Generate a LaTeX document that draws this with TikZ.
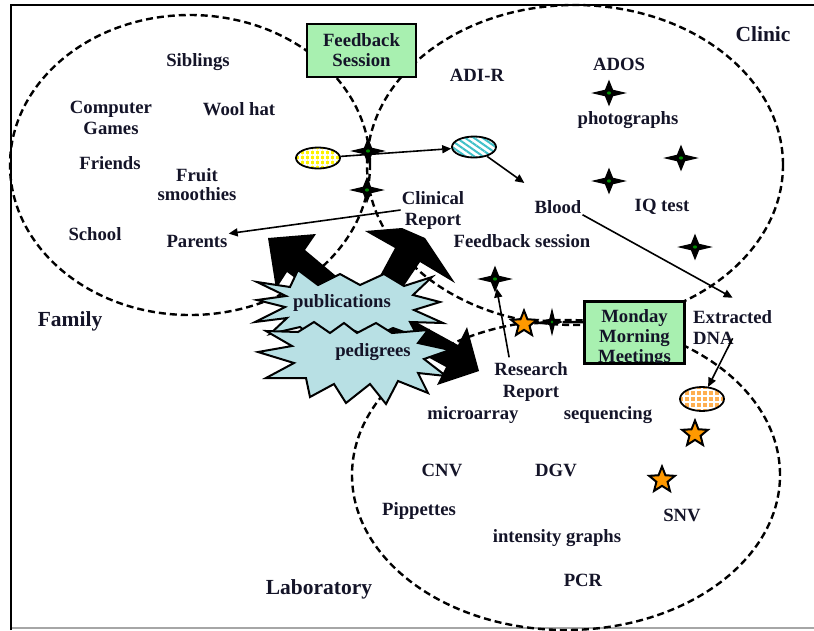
\documentclass[tikz,border=0pt]{standalone}
\usepackage{fontspec}
\setmainfont{Liberation Serif}
\usetikzlibrary{shapes.geometric,arrows.meta,patterns.meta,calc}
\definecolor{txtc}{RGB}{20,20,40}
\definecolor{boxg}{RGB}{168,240,176}
\definecolor{burstc}{RGB}{184,224,228}
\definecolor{starorange}{RGB}{255,153,0}
\definecolor{hatchcyan}{RGB}{64,192,200}
\definecolor{lightorange}{RGB}{255,175,80}
\newcommand{\dgitemfont}{\bfseries\fontsize{18.7pt}{21pt}\selectfont}
\newcommand{\dgboxfont}{\bfseries\fontsize{18.7pt}{20pt}\selectfont}
\newcommand{\dgregionfont}{\bfseries\fontsize{21.5pt}{24pt}\selectfont}
\newcommand{\dgspark}[3][1.3]{\begin{scope}[shift={#3}]\node[spark,xscale=#1] (#2) at (0,0) {};\end{scope}}
\begin{document}
\begin{tikzpicture}[x=1pt,y=-1pt,
  item/.style={font=\dgitemfont,text=txtc,inner sep=1pt,align=center},
  region/.style={font=\dgregionfont,text=txtc,inner sep=1pt},
  zone/.style={draw=black,line width=2.4pt,dash pattern=on 7pt off 4pt},
  greenbox/.style={draw=black,line width=2pt,fill=boxg,inner sep=0pt},
  spark/.style={star,star points=4,star point ratio=3.0,minimum size=24pt,inner sep=0pt,
    fill=black,draw=black,line width=1pt,transform shape,
    path picture={\fill[green!55!black] (path picture bounding box.center) circle (1.6pt);}},
  ostar/.style={star,star points=5,star point ratio=2.3,minimum size=27pt,inner sep=0pt,
    fill=starorange,draw=black,line width=2pt},
  blob/.style={ellipse,draw=black,line width=1.8pt,minimum width=44pt,minimum height=21pt,inner sep=0pt},
  arr/.style={line width=1.6pt,-{Triangle[length=9pt,width=8pt]}},
  burst/.style={fill=burstc,draw=black,line width=2pt,line join=miter},
  bigarrow/.style={fill=black}]
\useasboundingbox (0,0) rectangle (814,630);
% frame
\draw[line width=1.5pt,gray!70] (11,628) -- (814,628);
\draw[line width=2.5pt] (11,630) -- (11,5) -- (814,5);
% zones
\draw[zone] (190,165) ellipse [x radius=180pt,y radius=150pt];
\draw[zone] (575,165) ellipse [x radius=208pt,y radius=160pt];
\draw[zone] (566,475) ellipse [x radius=214pt,y radius=155pt];
% big black arrows
\fill[bigarrow] (268,238) -- (316,234) -- (305,250) -- (360,296) -- (345,315) -- (287,272) -- (276,289) -- cycle;
\fill[bigarrow] (365,231) -- (402,228) -- (425,238) -- (455,283) -- (420,262) -- (393,302) -- (368,298) -- (395,248) -- cycle;
\fill[bigarrow] (467,327) -- (479,371) -- (437,385) -- (446,367) -- (344,311) -- (356,289) -- (458,345) -- cycle;
% starbursts
\filldraw[burst] (290,287) -- (298,270) -- (318,285) -- (340,274) -- (360,285) -- (384,274) -- (404,286) -- (432,277) -- (413,295) -- (440,302) -- (414,310) -- (443,323) -- (410,322) -- (418,337) -- (393,328) -- (372,338) -- (345,327) -- (316,340) -- (300,327) -- (270,334) -- (287,318) -- (255,322) -- (285,307) -- (257,300) -- (286,296) -- (257,282) -- cycle;
\filldraw[burst] (298,332) -- (314,322) -- (330,333) -- (344,323) -- (357,333) -- (376,323) -- (392,333) -- (428,330) -- (418,343) -- (450,350) -- (424,359) -- (446,376) -- (418,373) -- (428,393) -- (398,381) -- (386,404) -- (370,384) -- (346,403) -- (334,384) -- (310,397) -- (306,378) -- (266,378) -- (294,363) -- (258,352) -- (292,346) -- (266,331) -- cycle;
\node[item] (pub) at (342,303) {publications};
\node[item] (ped) at (373,352) {pedigrees};
% boxes
\node[greenbox,minimum width=109pt,minimum height=53pt,font=\dgboxfont,text=txtc,align=center] (fb) at (361.5,50.5) {Feedback\\Session};
\node[greenbox,minimum width=99pt,minimum height=61pt] (mmm) at (634.5,332.5) {};
\begin{scope}
\clip (mmm.south west) rectangle (mmm.north east);
\node[item,font=\dgboxfont] (mmmtxt) at (634.5,338) {Monday\\Morning\\Meetings};
\end{scope}
\draw[line width=2pt] (mmm.south west) rectangle (mmm.north east);
% region labels
\node[region] (family) at (70,321) {Family};
\node[region] (clinic) at (763,34) {Clinic};
\node[region] (lab) at (319,589) {Laboratory};
% family items
\node[item] (siblings) at (198,62) {Siblings};
\node[item] (games) at (111,118) {Computer\\Games};
\node[item] (woolhat) at (239,109) {Wool hat};
\node[item] (friends) at (110,163) {Friends};
\node[item] (fruit) at (197,185) {Fruit\\[-2pt]smoothies};
\node[item] (school) at (95,234) {School};
\node[item] (parents) at (197,241) {Parents};
% clinic items
\node[item] (adir) at (477,75) {ADI-R};
\node[item] (ados) at (619,64) {ADOS};
\node[item] (photos) at (628,120) {photographs};
\node[item] (iq) at (662,207) {IQ test};
\node[item] (blood) at (558,207) {Blood};
\node[item] (clin) at (433,210) {Clinical\\Report};
\node[item] (fbs) at (522,241) {Feedback session};
\node[item] (rr) at (531,382) {Research\\[1pt]Report};
\node[item,align=left,anchor=west] (dna) at (692,328) {Extracted\\DNA};
% lab items
\node[item] (micro) at (473,415) {microarray};
\node[item] (seq) at (608,415) {sequencing};
\node[item] (cnv) at (442,470) {CNV};
\node[item] (dgv) at (556,470) {DGV};
\node[item] (pip) at (419,511) {Pippettes};
\node[item] (intg) at (557,538) {intensity graphs};
\node[item] (snv) at (682,515) {SNV};
\node[item] (pcr) at (583,580) {PCR};
% sample blobs
\node[blob,preaction={fill=yellow},pattern={Hatch[distance=5pt,line width=1.1pt]},pattern color=white] (ye) at (318,158) {};
\node[blob,preaction={fill=white},pattern={Lines[angle=-35,distance=5pt,line width=2pt]},pattern color=hatchcyan] (cy) at (474,147) {};
\node[blob,minimum height=24pt,preaction={fill=lightorange},pattern={Hatch[distance=6pt,line width=1.2pt]},pattern color=white] (oe) at (702,399) {};
% orange stars
\node[ostar] (os1) at (524,324) {};
\node[ostar] (os2) at (695,434) {};
\node[ostar] (os3) at (662,480) {};
% sparkles
\dgspark{s1}{(368,151)}
\dgspark{s2}{(367,190)}
\dgspark{s3}{(609,93)}
\dgspark{s4}{(681,158)}
\dgspark{s5}{(609,181)}
\dgspark{s6}{(695,247)}
\dgspark{s7}{(495,279)}
\dgspark[0.8]{s8}{(552,322)}
% connectors
\draw[arr] (ye) -- (cy);
\draw[arr,shorten >=28pt] (cy) -- (blood);
\draw[arr] (clin.west) -- (parents.north east);
\draw[arr] (blood.south east) -- ([yshift=12pt]dna.north);
\draw[arr] ([yshift=8pt]dna.south) -- (oe);
\draw[arr] ([xshift=16pt,yshift=4pt]rr.north west) -- (s7);
\draw[line width=2.5pt] (os1) -- (s8) -- (s8 -| mmm.west);
\end{tikzpicture}
\end{document}
